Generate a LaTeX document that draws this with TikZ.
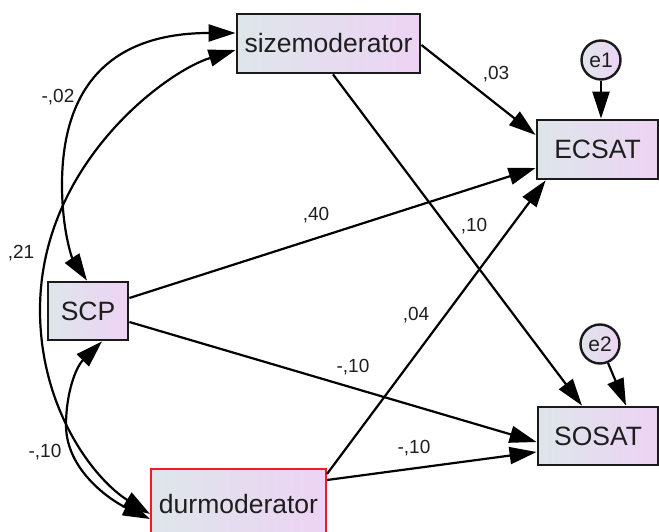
\documentclass[tikz,border=0pt]{standalone}
\usepackage{fontspec}
\setmainfont{Liberation Sans}
\usetikzlibrary{arrows.meta,calc}
\definecolor{boxL}{HTML}{DEE6EA}
\definecolor{boxR}{HTML}{EDD3F4}
\definecolor{edge}{HTML}{1A1A1A}
\definecolor{rededge}{HTML}{EE1C25}
\definecolor{ink}{HTML}{1E1E1E}
\tikzset{
  var/.style={draw=edge, line width=2.8pt, left color=boxL, right color=boxR,
    inner sep=0pt, text=ink, font=\fontsize{26.5}{26.5}\selectfont},
  err/.style={circle, draw=edge, line width=2.4pt, left color=boxL, right color=boxR,
    minimum size=39pt, inner sep=0pt, text=ink, font=\fontsize{21}{21}\selectfont},
  reg/.style={draw=black, line width=2.2pt, -{Triangle[length=27pt,width=17pt]}},
  cov/.style={draw=black, line width=2.2pt,
    {Triangle[length=27pt,width=17pt]}-{Triangle[length=27pt,width=17pt]}},
  lbl/.style={font=\fontsize{19}{19}\selectfont, inner sep=0pt, text=ink},
}
\begin{document}
\begin{tikzpicture}[x=1pt,y=-1pt]
\useasboundingbox (0,0) rectangle (659,532);
\clip (0,0) rectangle (659,532);

% observed variables
\node[var, minimum width=183pt, minimum height=59pt] (sizemod) at (328.5,43.5) {sizemoderator};
\node[var, minimum width=121pt, minimum height=59pt] (ecsat) at (597.5,149.5) {ECSAT};
\node[var, minimum width=120pt, minimum height=58pt] (sosat) at (598,436) {SOSAT};
\node[var, minimum width=80pt, minimum height=58pt] (scp) at (88,311) {SCP};
\node[var, draw=rededge, line width=2pt, minimum width=175pt, minimum height=70pt] (dur) at (238.5,504) {durmoderator};

% error terms
\node[err] (e1) at (601,60) {e1};
\node[err] (e2) at (600,344) {e2};

% regression paths
\draw[reg] ([yshift=-1.5pt]sizemod.east) -- ([yshift=14.5pt]ecsat.west);
\draw[reg] ([xshift=4.5pt]sizemod.south) -- ([xshift=-16pt]sosat.north);
\draw[reg] ([yshift=13pt]scp.east) -- ([yshift=-18.5pt]ecsat.west);
\draw[reg] ([yshift=-11pt]scp.east) -- ([yshift=-6pt]sosat.west);
\draw[reg] ([yshift=-6pt]dur.north east) -- ([xshift=10pt]ecsat.south west);
\draw[reg] ([yshift=24pt]dur.east) -- ([yshift=-16pt]sosat.west);
\draw[reg] (e1) -- (e1 |- ecsat.north);
\draw[reg] (e2) -- ([xshift=28pt]sosat.north);

% covariances
\draw[cov] ([yshift=10.5pt]sizemod.west) .. controls (114,33) and (62,83) .. (62,185)
  .. controls (62,230) and (72,258) .. ([xshift=-1pt]scp.north);
\draw[cov] ([yshift=-6.5pt]sizemod.west) .. controls (165,72) and (40,165) .. (40,310)
  .. controls (40,410) and (95,480) .. ([yshift=-10pt]dur.west);
\draw[cov] ([xshift=14pt]scp.south) .. controls (75,368) and (66,395) .. (66,425)
  .. controls (66,470) and (110,500) .. ([yshift=-15pt]dur.west);

% estimates
\node[lbl] (l1) at (58,97) {-,02};
\node[lbl] (l2) at (21,253) {,21};
\node[lbl] (l3) at (45,452) {-,10};
\node[lbl] (l4) at (496,74) {,03};
\node[lbl] (l5) at (316,215) {,40};
\node[lbl] (l6) at (474,226) {,10};
\node[lbl] (l7) at (416,315) {,04};
\node[lbl] (l8) at (353,367) {-,10};
\node[lbl] (l9) at (414,448) {-,10};
\end{tikzpicture}
\end{document}
